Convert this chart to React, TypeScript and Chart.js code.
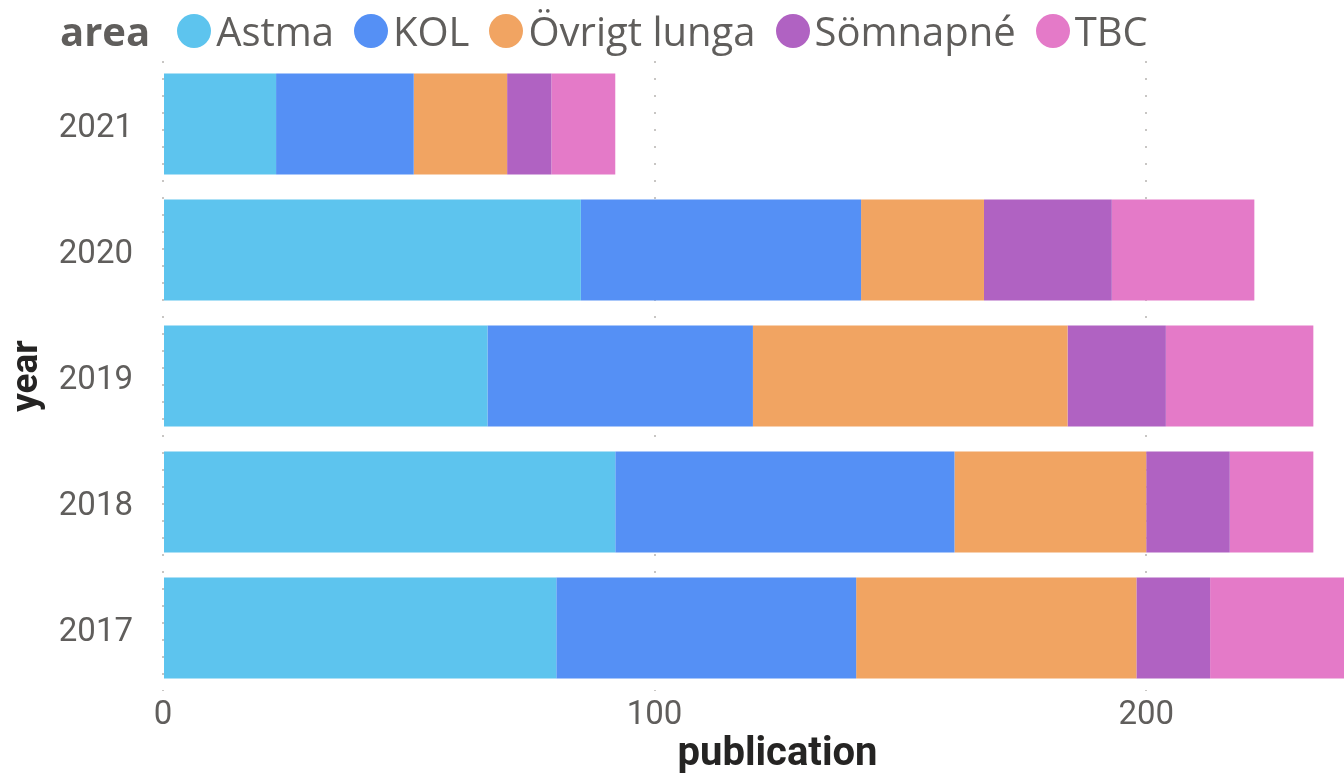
import React, { useEffect, useRef } from "react";
import { Chart, registerables } from "chart.js";

Chart.register(...registerables);

const years = ["2021", "2020", "2019", "2018", "2017"];
const areas = ["Astma", "KOL", "Övrigt lunga", "Sömnapné", "TBC"];
const astma = [23, 85, 66, 92, 80];
const kol = [28, 57, 54, 69, 61];
const ovrigt = [19, 25, 64, 39, 57];
const somnapne = [9, 26, 20, 17, 15];
const tbc = [13, 29, 30, 17, 30];
const areaColors = ["#5DC4EE", "#5590F5", "#F1A462", "#B062C2", "#E47AC8"];
const xTickValues = [0, 100, 200];
const xMax = 250;
const legendTitle = "area";
const xTitle = "publication";
const yTitle = "year";

const TEXT_GREY = "#605E5C";
const TEXT_DARK = "#252423";

export default function App() {
  const canvasRef = useRef<HTMLCanvasElement | null>(null);

  useEffect(() => {
    if (!canvasRef.current) return;
    const series = [astma, kol, ovrigt, somnapne, tbc];
    const chart = new Chart(canvasRef.current, {
      type: "bar",
      data: {
        labels: years,
        datasets: areas.map((name, i) => ({
          label: name,
          data: series[i],
          backgroundColor: areaColors[i],
          borderWidth: 0,
          barPercentage: 0.8,
          categoryPercentage: 1,
        })),
      },
      options: {
        indexAxis: "y",
        animation: false,
        responsive: true,
        maintainAspectRatio: false,
        layout: { padding: { top: 61, bottom: 0, left: 0, right: 0 } },
        plugins: {
          legend: { display: false },
          tooltip: { enabled: false },
        },
        scales: {
          x: {
            stacked: true,
            min: 0,
            max: xMax,
            afterBuildTicks: (s: any) => {
              s.ticks = xTickValues.map((v) => ({ value: v }));
            },
            afterFit: (s: any) => {
              s.height = 84;
            },
            grid: {
              display: true,
              drawTicks: false,
              color: "#C8C6C4",
              lineWidth: 2,
            },
            border: { display: false, dash: [2, 15] },
            ticks: {
              padding: 8,
              color: TEXT_GREY,
              font: { family: "Roboto", size: 33, lineHeight: 1 },
            },
            title: {
              display: true,
              text: xTitle,
              color: TEXT_DARK,
              font: { family: "Roboto", size: 40, weight: "bold", lineHeight: 1 },
              padding: { top: 0, bottom: 0 },
            },
          },
          y: {
            stacked: true,
            afterFit: (s: any) => {
              s.width = 163;
            },
            grid: { display: false, drawTicks: false },
            border: { display: false },
            ticks: {
              padding: 30,
              labelOffset: 5,
              color: TEXT_GREY,
              font: { family: "Roboto", size: 33, lineHeight: 1 },
            },
            title: {
              display: true,
              text: yTitle,
              color: TEXT_DARK,
              font: { family: "Roboto", size: 37, weight: "bold", lineHeight: 1 },
              padding: { top: 9, bottom: 0 },
            },
          },
        },
      },
    });
    return () => chart.destroy();
  }, []);

  return (
    <div
      style={{
        position: "fixed",
        left: 0,
        top: 0,
        width: 1344,
        height: 775,
        overflow: "hidden",
        background: "#fff",
      }}
    >
      <div style={{ position: "absolute", left: 0, top: 0, width: 1392, height: 775 }}>
        <canvas ref={canvasRef} />
      </div>
      <div
        style={{
          position: "absolute",
          left: 60,
          top: 9,
          height: 44,
          display: "flex",
          alignItems: "center",
          fontFamily: "'Open Sans', Roboto, sans-serif",
          fontSize: 40,
          lineHeight: "44px",
          color: TEXT_GREY,
          whiteSpace: "nowrap",
        }}
      >
        <span style={{ fontWeight: 700, marginRight: 27 }}>{legendTitle}</span>
        {areas.map((name, i) => (
          <span key={name} style={{ display: "flex", alignItems: "center", marginRight: 20 }}>
            <span
              style={{
                display: "inline-block",
                width: 34,
                height: 34,
                borderRadius: "50%",
                background: areaColors[i],
                marginRight: 5,
              }}
            />
            <span>{name}</span>
          </span>
        ))}
      </div>
    </div>
  );
}
